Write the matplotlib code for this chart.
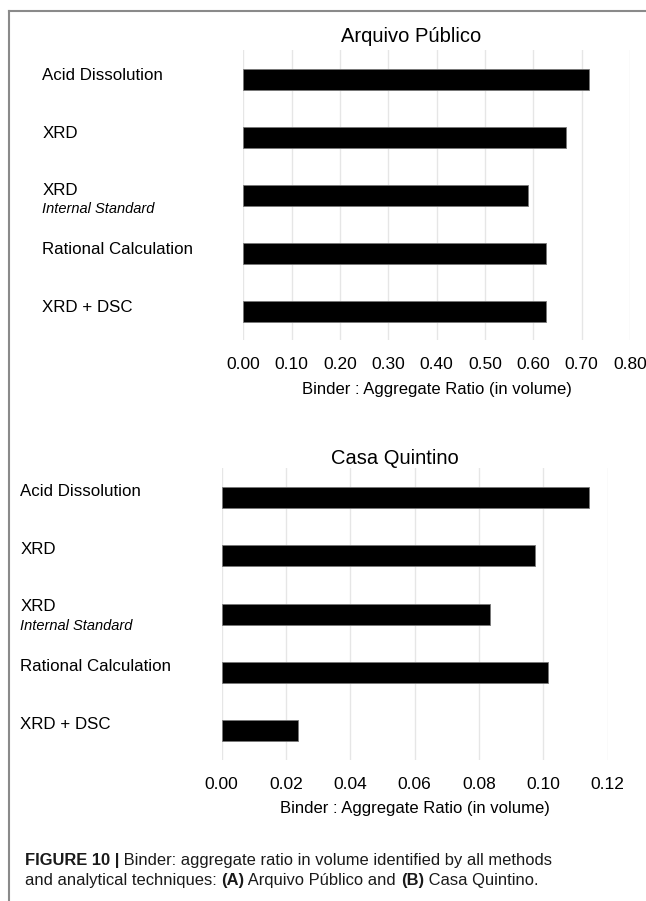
import matplotlib
matplotlib.use("Agg")
import matplotlib.pyplot as plt
from matplotlib.lines import Line2D
from matplotlib import font_manager

# data
methods = ['Acid Dissolution', 'XRD', 'XRD', 'Rational Calculation', 'XRD + DSC']
method_notes = ['', '', 'Internal Standard', '', '']
arquivo_values = [0.716, 0.668, 0.589, 0.626, 0.626]
quintino_values = [0.1141, 0.0973, 0.0835, 0.1013, 0.0239]
arquivo_ticks = [0.0, 0.1, 0.2, 0.3, 0.4, 0.5, 0.6, 0.7, 0.8]
quintino_ticks = [0.0, 0.02, 0.04, 0.06, 0.08, 0.10, 0.12]
x_label = 'Binder : Aggregate Ratio (in volume)'

W, H = 646, 901
plt.rcParams['font.family'] = ['Liberation Sans', 'DejaVu Sans']
names = set(f.name for f in font_manager.fontManager.ttflist)
cap_font = 'Liberation Sans Narrow' if 'Liberation Sans Narrow' in names else 'Liberation Sans'

fig = plt.figure(figsize=(W / 100, H / 100), dpi=100)


def px_box(x0, x1, y_top, y_bot):
    return [x0 / W, 1 - y_bot / H, (x1 - x0) / W, (y_bot - y_top) / H]


def panel(box, values, ticks, title, title_xy, label_x, lab_off, note_off):
    ax = fig.add_axes(box)
    pos = list(range(len(values)))
    ax.barh(pos, values, height=0.36, color='black', edgecolor='#777777', linewidth=0.6, zorder=3)
    ax.set_xlim(ticks[0], ticks[-1])
    ax.set_ylim(len(values) - 0.5, -0.5)
    ax.set_xticks(ticks)
    ax.set_xticklabels(['{:.2f}'.format(t) for t in ticks], fontsize=12.5, color='black')
    ax.set_yticks([])
    ax.tick_params(axis='x', length=0, pad=12)
    ax.grid(axis='x', color='#e6e6e6', linewidth=1, zorder=0)
    for s in ax.spines.values():
        s.set_visible(False)
    ax.set_xlabel(x_label, fontsize=12, color='black', labelpad=7)
    trans = matplotlib.transforms.blended_transform_factory(fig.transFigure, ax.transData)
    for i, (m, n) in enumerate(zip(methods, method_notes)):
        if n:
            ax.text(label_x / W, i - note_off[0], m, transform=trans, fontsize=12.2,
                    va='center', ha='left', color='black')
            ax.text(label_x / W, i + note_off[1], n, transform=trans, fontsize=10.5,
                    style='italic', va='center', ha='left', color='black')
        else:
            ax.text(label_x / W, i - lab_off, m, transform=trans, fontsize=12.2,
                    va='center', ha='left', color='black')
    fig.text(title_xy[0] / W, 1 - title_xy[1] / H, title, fontsize=14.5,
             ha='center', va='center', color='black')
    return ax


panel(px_box(243.3, 630, 50, 340.5), arquivo_values, arquivo_ticks, 'Arquivo Público',
      (411, 37), 42.5, 0.06, (0.08, 0.24))
panel(px_box(221.5, 607.7, 468.3, 760), quintino_values, quintino_ticks, 'Casa Quintino',
      (395, 458), 20.5, 0.1, (0.13, 0.2))

# frame lines
fig.add_artist(Line2D([9 / W, 9 / W], [0, 1 - 11 / H], transform=fig.transFigure,
                      color='#8a8a8a', linewidth=1.5))
fig.add_artist(Line2D([9 / W, 1], [1 - 11 / H, 1 - 11 / H], transform=fig.transFigure,
                      color='#8a8a8a', linewidth=1.5))

# caption, drawn piece by piece
caption = [
    [('FIGURE 10 |', 'bold'), (' Binder: aggregate ratio in volume identified by all methods', 'normal')],
    [('and analytical techniques: ', 'normal'), ('(A)', 'bold'), (' Arquivo Público and ', 'normal'),
     ('(B)', 'bold'), (' Casa Quintino.', 'normal')],
]
fig.canvas.draw()
renderer = fig.canvas.get_renderer()
for k, line in enumerate(caption):
    x = 25
    y = 1 - (861 + 19.5 * k) / H
    for txt, wt in line:
        t = fig.text(x / W, y, txt, fontsize=11.9, fontweight=wt, family=cap_font,
                     ha='left', va='center', color='#1a1a1a')
        bb = t.get_window_extent(renderer=renderer)
        x += bb.width

fig.savefig('out.png', dpi=100)
